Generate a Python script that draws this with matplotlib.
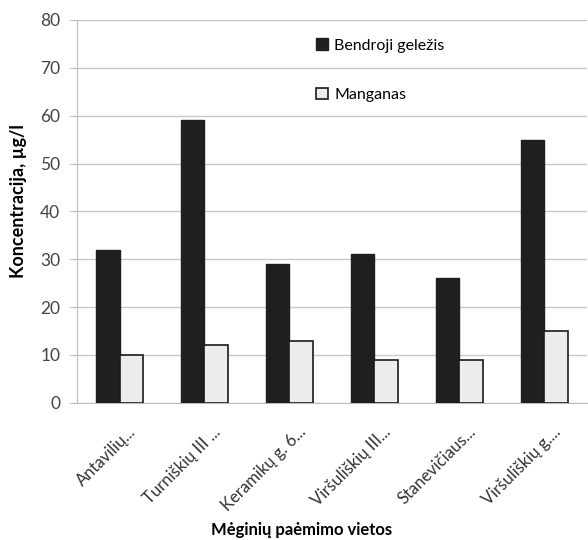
import matplotlib
matplotlib.use("Agg")
import matplotlib.pyplot as plt
import matplotlib.transforms as mtransforms
import numpy as np

categories = ["Antavilių...", "Turniškių III ...", "Keramikų g. 6...",
              "Viršuliškių III...", "Stanevičiaus...", "Viršuliškių g...."]
gelezis = [32, 59, 29, 31, 26, 55]
manganas = [10, 12, 13, 9, 9, 15]
yticks = [0, 10, 20, 30, 40, 50, 60, 70, 80]

plt.rcParams['font.family'] = ['Lato', 'DejaVu Sans']

fig = plt.figure(figsize=(5.88, 5.40), dpi=100)
ax = fig.add_axes([0.131, 0.254, 0.867, 0.709])

x = np.arange(len(categories))
w = 0.28
ax.bar(x - w/2, gelezis, w, color='#1f1f1f', edgecolor='#1f1f1f', linewidth=1, label='Bendroji geležis', zorder=3)
ax.bar(x + w/2, manganas, w, color='#ececec', edgecolor='#1a1a1a', linewidth=1.2, label='Manganas', zorder=3)

ax.set_xlim(-0.5, len(categories) - 0.5)
ax.set_ylim(0, 80)
ax.set_yticks(yticks)
ax.yaxis.grid(True, color='#c8c8c8', linewidth=1, zorder=0)
ax.set_axisbelow(True)
for s in ['top', 'right']:
    ax.spines[s].set_visible(False)
ax.spines['left'].set_color('#bdbdbd')
ax.spines['bottom'].set_color('#bdbdbd')
ax.tick_params(axis='y', length=5, color='#bdbdbd', labelsize=12.5, labelcolor='#444444', pad=7)
ax.tick_params(axis='x', length=0, labelsize=12, labelcolor='#333333', pad=15)
ax.set_xticks(x)
ax.set_xticklabels(categories, rotation=45, ha='right', rotation_mode='anchor')
offset = mtransforms.ScaledTranslation(8 / 100, 0, fig.dpi_scale_trans)
for lab in ax.get_xticklabels():
    lab.set_transform(lab.get_transform() + offset)

ax.set_ylabel('Koncentracija, µg/l', fontsize=13, fontweight='bold')
ax.yaxis.set_label_coords(-0.098, 0.527)
ax.set_xlabel('Mėginių paėmimo vietos', fontsize=12, fontweight='bold')
ax.xaxis.set_label_coords(0.441, -0.312)

leg = ax.legend(loc='upper left', bbox_to_anchor=(0.44, 0.99), frameon=False,
                fontsize=11.5, labelspacing=2.2, handlelength=0.75, handleheight=0.75,
                handletextpad=0.4)

fig.savefig('out.png', dpi=100)
